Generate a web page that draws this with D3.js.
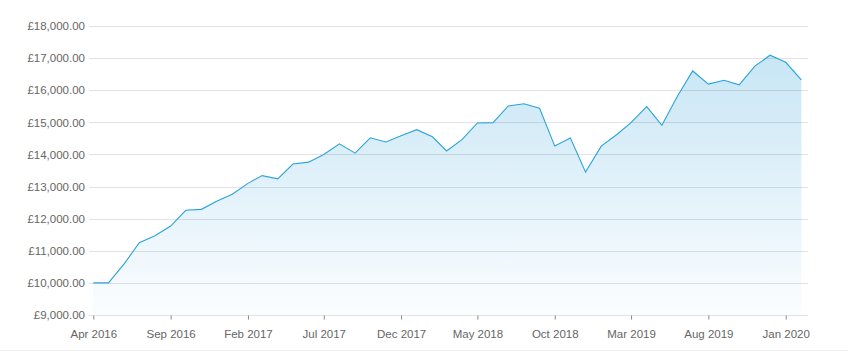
<!DOCTYPE html>
<html>
<head>
<meta charset="utf-8">
<script src="https://cdn.jsdelivr.net/npm/d3@7"></script>
<style>
  html, body { margin: 0; padding: 0; background: #fff; }
  svg { display: block; font-family: "Liberation Sans", Arial, sans-serif; }
</style>
</head>
<body>
<svg id="chart" width="848" height="351"></svg>
<script>
// Monthly values, Apr 2016 – Feb 2020
const startMonth = [2016, 3]; // year, zero-based month (April)
const values = [
  10000, 10000, 10590, 11250, 11470, 11770, 12260, 12290, 12540, 12760,
  13100, 13340, 13240, 13700, 13760, 14000, 14330, 14040, 14520, 14390,
  14580, 14770, 14550, 14110, 14470, 14980, 14990, 15510, 15580, 15440,
  14260, 14510, 13450, 14260, 14620, 14990, 15490, 14910, 15820, 16600,
  16190, 16310, 16170, 16750, 17090, 16870, 16320
];
const yTicks = [9000, 10000, 11000, 12000, 13000, 14000, 15000, 16000, 17000, 18000];
const xTickLabels = ["Apr 2016", "Sep 2016", "Feb 2017", "Jul 2017", "Dec 2017",
                     "May 2018", "Oct 2018", "Mar 2019", "Aug 2019", "Jan 2020"];

const data = values.map((v, i) => ({ date: new Date(startMonth[0], startMonth[1] + i, 1), value: v }));
const parseTick = d3.timeParse("%b %Y");
const xTickDates = xTickLabels.map(parseTick);

const svg = d3.select("#chart");
const gridLeft = 89, gridRight = 808;

const x = d3.scaleTime()
  .domain([new Date(2016, 3, 1), new Date(2020, 0, 1)])
  .range([93.3, 785.7]);
const y = d3.scaleLinear().domain([9000, 18000]).range([315, 26]);

// gradient
const defs = svg.append("defs");
const grad = defs.append("linearGradient").attr("id", "areaGrad")
  .attr("gradientUnits", "userSpaceOnUse")
  .attr("x1", 0).attr("x2", 0).attr("y1", y(17100)).attr("y2", y(9000));
grad.append("stop").attr("offset", "0%").attr("stop-color", "#c8e6f5");
grad.append("stop").attr("offset", "100%").attr("stop-color", "#fbfdff");

// area
const area = d3.area().x(d => x(d.date)).y0(y(9000)).y1(d => y(d.value));
svg.append("path").datum(data).attr("d", area).attr("fill", "url(#areaGrad)");

// gridlines
svg.append("g").selectAll("line").data(yTicks).join("line")
  .attr("x1", gridLeft).attr("x2", gridRight)
  .attr("y1", d => Math.round(y(d)) + 0.5).attr("y2", d => Math.round(y(d)) + 0.5)
  .attr("stroke", "rgba(0,0,0,0.11)").attr("stroke-width", 1);

// line
const line = d3.line().x(d => x(d.date)).y(d => y(d.value));
svg.append("path").datum(data).attr("d", line)
  .attr("fill", "none").attr("stroke", "#2aa3dc").attr("stroke-width", 1.1);

// y axis labels
const fmt = v => "£" + d3.format(",.2f")(v);
const yAxis = d3.axisLeft(y).tickValues(yTicks).tickFormat(fmt).tickSize(0).tickPadding(0);
const gy = svg.append("g").attr("transform", "translate(85,0)").call(yAxis);
gy.select(".domain").remove();
gy.selectAll("text").attr("fill", "#666").style("font-size", "11.5px")
  .style("font-family", "'Liberation Sans', Arial, sans-serif");

// x axis
const xAxis = d3.axisBottom(x).tickValues(xTickDates).tickFormat(d3.timeFormat("%b %Y"))
  .tickSize(4).tickPadding(10);
const gx = svg.append("g").attr("transform", "translate(0,315.5)").call(xAxis);
gx.select(".domain").remove();
gx.selectAll("line").attr("stroke", "#888");
gx.selectAll("text").attr("fill", "#666").style("font-size", "11.5px")
  .style("font-family", "'Liberation Sans', Arial, sans-serif");

// bottom separator
svg.append("line").attr("x1", 0).attr("x2", 848).attr("y1", 350.5).attr("y2", 350.5)
  .attr("stroke", "#ececec");
</script>
</body>
</html>
